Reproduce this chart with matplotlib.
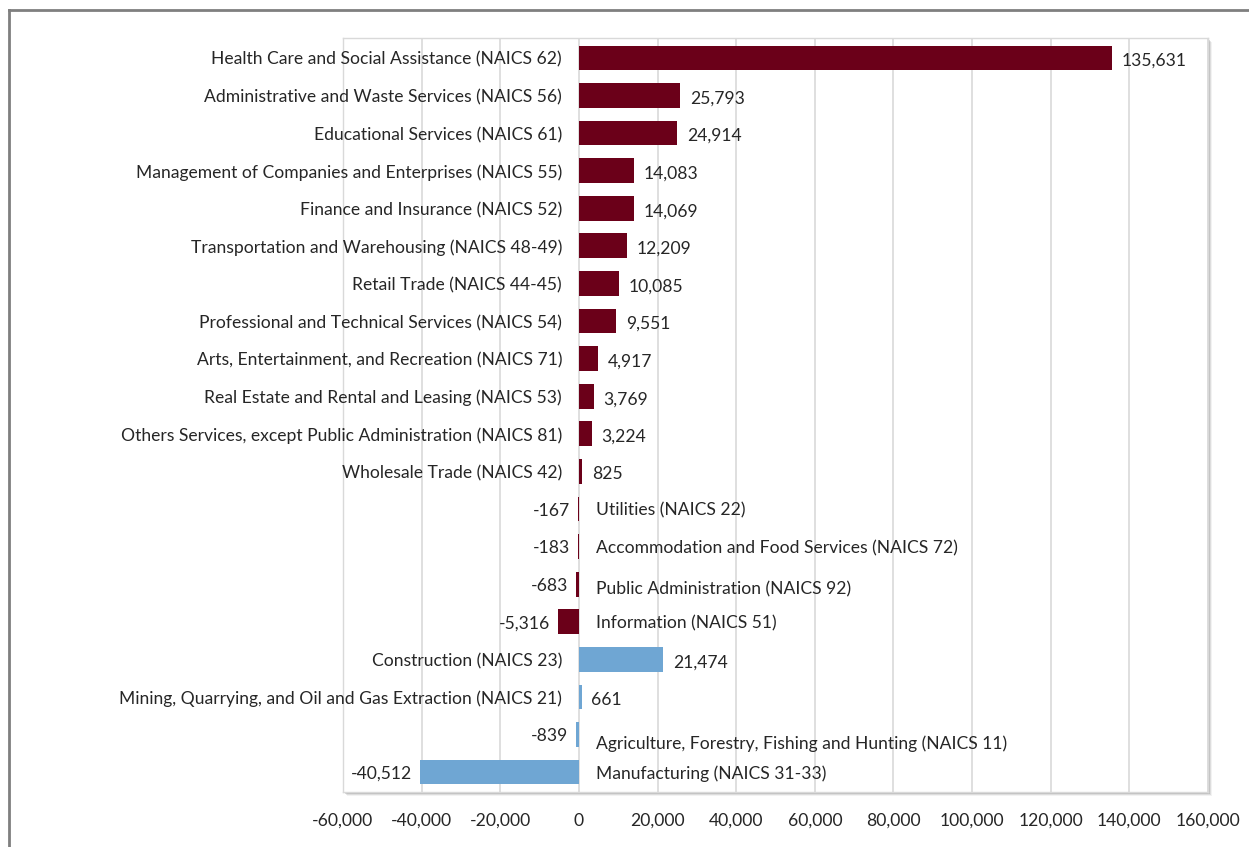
import matplotlib
matplotlib.use("Agg")
import matplotlib.pyplot as plt
from matplotlib.patches import Rectangle
from matplotlib.lines import Line2D

categories = [
    "Health Care and Social Assistance (NAICS 62)",
    "Administrative and Waste Services (NAICS 56)",
    "Educational Services (NAICS 61)",
    "Management of Companies and Enterprises (NAICS 55)",
    "Finance and Insurance (NAICS 52)",
    "Transportation and Warehousing (NAICS 48-49)",
    "Retail Trade (NAICS 44-45)",
    "Professional and Technical Services (NAICS 54)",
    "Arts, Entertainment, and Recreation (NAICS 71)",
    "Real Estate and Rental and Leasing (NAICS 53)",
    "Others Services, except Public Administration (NAICS 81)",
    "Wholesale Trade (NAICS 42)",
    "Utilities (NAICS 22)",
    "Accommodation and Food Services (NAICS 72)",
    "Public Administration (NAICS 92)",
    "Information (NAICS 51)",
    "Construction (NAICS 23)",
    "Mining, Quarrying, and Oil and Gas Extraction (NAICS 21)",
    "Agriculture, Forestry, Fishing and Hunting (NAICS 11)",
    "Manufacturing (NAICS 31-33)",
]
values = [135631, 25793, 24914, 14083, 14069, 12209, 10085, 9551, 4917,
          3769, 3224, 825, -167, -183, -683, -5316, 21474, 661, -839, -40512]
groups = ["service"] * 16 + ["goods"] * 4
xticks = list(range(-60000, 160001, 20000))

colors = {"service": "#6B0019", "goods": "#6FA6D3"}
text_color = "#262626"
plt.rcParams['font.family'] = ['Lato', 'DejaVu Sans']
FS = 12.6

W, H = 1249, 847
fig = plt.figure(figsize=(W / 100, H / 100), dpi=100)

# outer frame (left and top)
fig.add_artist(Line2D([9 / W, 9 / W], [0, 1 - 10 / H], transform=fig.transFigure,
                      color="#7f7f7f", lw=2.0))
fig.add_artist(Line2D([9 / W, 1], [1 - 10 / H, 1 - 10 / H], transform=fig.transFigure,
                      color="#7f7f7f", lw=2.0))

left, right, top, bottom = 343, 1208, 38, 792
ax_rect = [left / W, 1 - bottom / H, (right - left) / W, (bottom - top) / H]

# shadow of plot area
for off, a in [(4, 0.10), (3, 0.18), (2, 0.30)]:
    fig.add_artist(Rectangle(((left + off) / W, 1 - (bottom + off) / H),
                             (right - left) / W, (bottom - top) / H,
                             transform=fig.transFigure, facecolor="#808080",
                             edgecolor="none", alpha=a, zorder=0))

ax = fig.add_axes(ax_rect)
ax.set_facecolor("white")
ax.set_zorder(1)

n = len(categories)
ypos = list(range(n))
bar_colors = [colors[g] for g in groups]
ax.barh(ypos, values, height=0.66, color=bar_colors, zorder=3)

ax.set_xlim(-60000, 160000)
ax.set_ylim(n - 0.47, -0.53)
ax.set_xticks(xticks)
ax.set_xticklabels([f"{t:,}" for t in xticks], fontsize=FS, color=text_color)
ax.set_yticks([])
ax.tick_params(axis="x", length=0, pad=15)
ax.grid(axis="x", color="#d9d9d9", lw=1.2, zorder=0)
for s in ax.spines.values():
    s.set_color("#d9d9d9")
    s.set_linewidth(1.0)

gap = 4300
base_dy = 0.05
label_dy = {"Agriculture, Forestry, Fishing and Hunting (NAICS 11)": 0.2,
            "Public Administration (NAICS 92)": 0.08}
for y, cat, v in zip(ypos, categories, values):
    dy = label_dy.get(cat, 0)
    vtxt = f"{v:,}"
    if v >= 0:
        ax.text(-gap, y + base_dy, cat, ha="right", va="center", fontsize=FS, color=text_color)
        ax.text(v + 2500, y + base_dy + 0.03, vtxt, ha="left", va="center", fontsize=FS, color=text_color)
    else:
        ax.text(gap, y + base_dy + dy, cat, ha="left", va="center", fontsize=FS, color=text_color)
        ax.text(v - 2000, y + base_dy, vtxt, ha="right", va="center", fontsize=FS, color=text_color)

fig.savefig("out.png", dpi=100, facecolor="white")
